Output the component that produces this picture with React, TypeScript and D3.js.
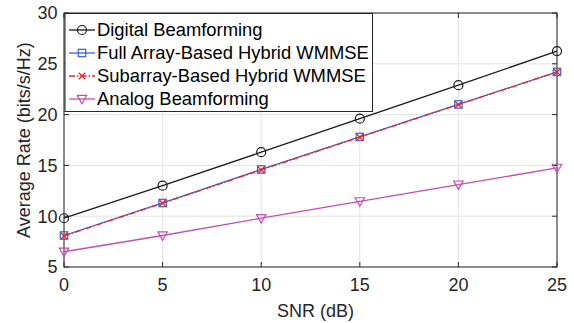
import * as d3 from "d3"

const snr = [0, 5, 10, 15, 20, 25]
const digital = [9.8, 13.0, 16.3, 19.6, 22.9, 26.25]
const fullArray = [8.1, 11.3, 14.6, 17.8, 21.0, 24.2]
const subArray = [8.05, 11.28, 14.55, 17.78, 20.98, 24.18]
const analog = [6.5, 8.1, 9.8, 11.45, 13.1, 14.75]
const xTicks = [0, 5, 10, 15, 20, 25]
const yTicks = [5, 10, 15, 20, 25, 30]
const seriesNames = [
  "Digital Beamforming",
  "Full Array-Based Hybrid WMMSE",
  "Subarray-Based Hybrid WMMSE",
  "Analog Beamforming",
]

const W = 574
const H = 323
const left = 64
const right = 557
const top = 13
const bottom = 267
const axisColor = "#262626"
const font = "'Liberation Sans', Arial, sans-serif"
const fs = 18

const styles = [
  { color: "#1a1a1a", dash: "", marker: "circle" },
  { color: "#3a62d0", dash: "", marker: "square" },
  { color: "#f0202a", dash: "6,2,1.5,2", marker: "x" },
  { color: "#c24fb4", dash: "", marker: "triangle" },
]

function Marker({ kind, x, y, color }: { kind: string; x: number; y: number; color: string }) {
  if (kind === "circle") return <circle cx={x} cy={y} r={4.5} fill="none" stroke={color} strokeWidth={1.2} />
  if (kind === "square")
    return <rect x={x - 3.7} y={y - 3.7} width={7.4} height={7.4} fill="none" stroke={color} strokeWidth={1.2} />
  if (kind === "x")
    return (
      <path
        d={`M${x - 3.2},${y - 3.2}L${x + 3.2},${y + 3.2}M${x - 3.2},${y + 3.2}L${x + 3.2},${y - 3.2}`}
        stroke={color}
        strokeWidth={1.3}
      />
    )
  return (
    <path
      d={`M${x - 4.7},${y - 3.7}L${x + 4.7},${y - 3.7}L${x},${y + 4.7}Z`}
      fill="none"
      stroke={color}
      strokeWidth={1.2}
    />
  )
}

export default function App() {
  const x = d3.scaleLinear().domain([0, 25]).range([left, right])
  const y = d3.scaleLinear().domain([5, 30]).range([bottom, top])
  const all = [digital, fullArray, subArray, analog]

  const line = d3
    .line<number>()
    .x((_, i) => x(snr[i]))
    .y((d) => y(d))

  // legend geometry
  const lgLeft = 65
  const lgTop = 13.5
  const lgRight = 372.5
  const lgBottom = 111.5
  const rowY = (i: number) => 30 + i * 23

  return (
    <svg
      width={W}
      height={H}
      style={{ position: "absolute", left: 0, top: 0, background: "#fff" }}
      fontFamily={font}
    >
      <rect x={0} y={0} width={W} height={H} fill="#fff" />
      {/* grid */}
      {xTicks.map((t) => (
        <line key={"gx" + t} x1={x(t)} x2={x(t)} y1={top} y2={bottom} stroke="#e3e3e3" strokeWidth={1} />
      ))}
      {yTicks.map((t) => (
        <line key={"gy" + t} x1={left} x2={right} y1={y(t)} y2={y(t)} stroke="#e3e3e3" strokeWidth={1} />
      ))}
      {/* box */}
      <rect x={left} y={top} width={right - left} height={bottom - top} fill="none" stroke={axisColor} strokeWidth={1} />
      {/* ticks */}
      {xTicks.map((t) => (
        <g key={"tx" + t}>
          <line x1={x(t)} x2={x(t)} y1={bottom} y2={bottom - 5} stroke={axisColor} />
          <line x1={x(t)} x2={x(t)} y1={top} y2={top + 5} stroke={axisColor} />
          <text x={x(t)} y={bottom + 24} textAnchor="middle" fontSize={fs} fill={axisColor}>
            {t}
          </text>
        </g>
      ))}
      {yTicks.map((t) => (
        <g key={"ty" + t}>
          <line x1={left} x2={left + 5} y1={y(t)} y2={y(t)} stroke={axisColor} />
          <line x1={right} x2={right - 5} y1={y(t)} y2={y(t)} stroke={axisColor} />
          <text x={left - 6.5} y={y(t) + 6.3} textAnchor="end" fontSize={fs} fill={axisColor}>
            {t}
          </text>
        </g>
      ))}
      <text x={(left + right) / 2 + 5} y={317} textAnchor="middle" fontSize={fs} fill={axisColor}>
        SNR (dB)
      </text>
      <text
        transform={`translate(30,${(top + bottom) / 2}) rotate(-90)`}
        textAnchor="middle"
        fontSize={fs}
        fill={axisColor}
      >
        Average Rate (bits/s/Hz)
      </text>
      {/* series */}
      {all.map((vals, si) => (
        <g key={"s" + si}>
          <path
            d={line(vals) || ""}
            fill="none"
            stroke={styles[si].color}
            strokeWidth={1.3}
            strokeDasharray={styles[si].dash}
          />
          {vals.map((v, i) => (
            <Marker key={i} kind={styles[si].marker} x={x(snr[i])} y={y(v)} color={styles[si].color} />
          ))}
        </g>
      ))}
      {/* legend */}
      <rect
        x={lgLeft}
        y={lgTop}
        width={lgRight - lgLeft}
        height={lgBottom - lgTop}
        fill="#fff"
        stroke={axisColor}
        strokeWidth={1}
      />
      {seriesNames.map((name, i) => (
        <g key={"lg" + i}>
          <line
            x1={69}
            x2={95}
            y1={rowY(i)}
            y2={rowY(i)}
            stroke={styles[i].color}
            strokeWidth={1.3}
            strokeDasharray={styles[i].dash}
          />
          <Marker kind={styles[i].marker} x={82} y={rowY(i)} color={styles[i].color} />
          <text x={97} y={rowY(i) + 6} fontSize={18.4} fill="#000">
            {name}
          </text>
        </g>
      ))}
    </svg>
  )
}
